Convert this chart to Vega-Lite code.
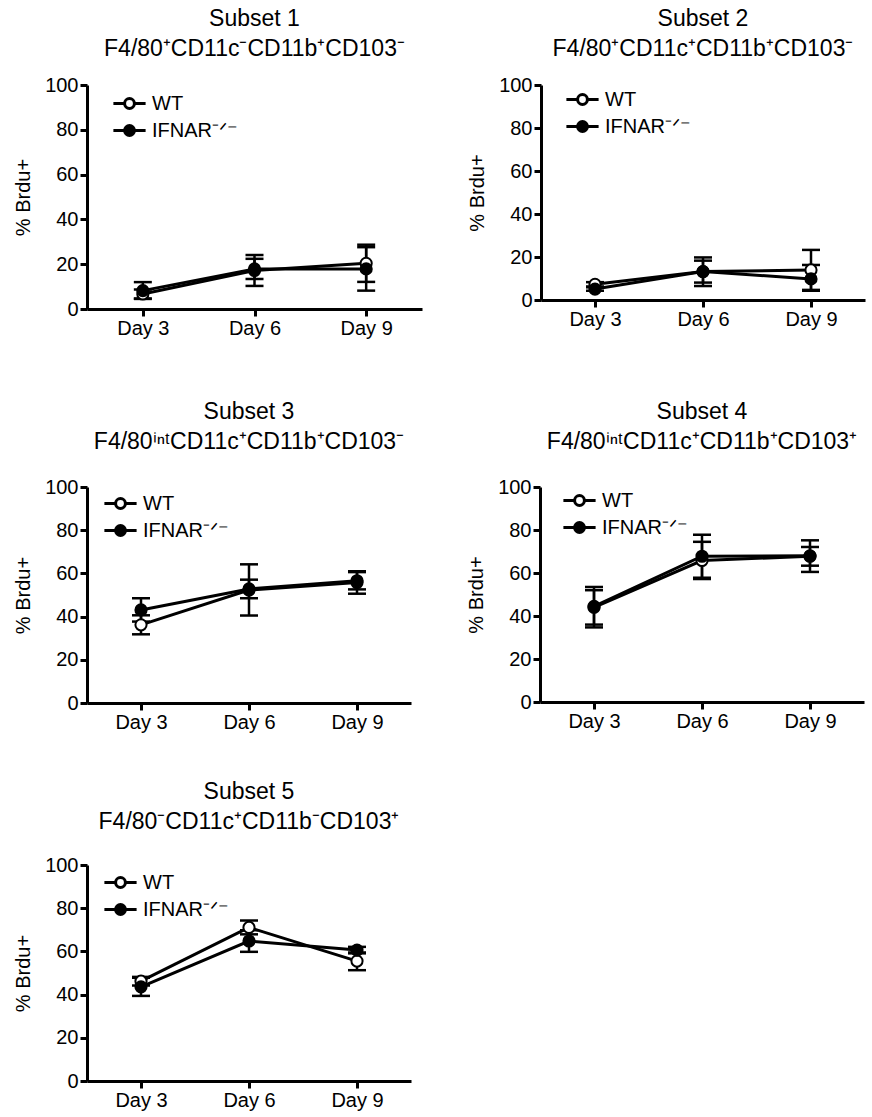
{
  "$schema": "https://vega.github.io/schema/vega-lite/v6.json",
  "padding": {"left": 13, "top": 8, "right": 5, "bottom": 2},
  "background": "white",
  "data": {"values": [
    {"panel": 1, "day": "Day 3", "g": "WT", "mean": 6.7, "lo": 4.7, "hi": 8.7},
    {"panel": 1, "day": "Day 6", "g": "WT", "mean": 17.2, "lo": 10.3, "hi": 24.1},
    {"panel": 1, "day": "Day 9", "g": "WT", "mean": 20.4, "lo": 12.1, "hi": 28.7},
    {"panel": 1, "day": "Day 3", "g": "IFNAR⁻ᐟ⁻", "mean": 8.2, "lo": 4.5, "hi": 12.0},
    {"panel": 1, "day": "Day 6", "g": "IFNAR⁻ᐟ⁻", "mean": 17.9, "lo": 13.4, "hi": 22.4},
    {"panel": 1, "day": "Day 9", "g": "IFNAR⁻ᐟ⁻", "mean": 17.9, "lo": 8.2, "hi": 27.6},
    {"panel": 2, "day": "Day 3", "g": "WT", "mean": 7.3, "lo": 6.3, "hi": 8.3},
    {"panel": 2, "day": "Day 6", "g": "WT", "mean": 13.2, "lo": 8.1, "hi": 18.3},
    {"panel": 2, "day": "Day 9", "g": "WT", "mean": 14.0, "lo": 4.7, "hi": 23.3},
    {"panel": 2, "day": "Day 3", "g": "IFNAR⁻ᐟ⁻", "mean": 5.1, "lo": 4.3, "hi": 5.9},
    {"panel": 2, "day": "Day 6", "g": "IFNAR⁻ᐟ⁻", "mean": 13.2, "lo": 6.5, "hi": 19.8},
    {"panel": 2, "day": "Day 9", "g": "IFNAR⁻ᐟ⁻", "mean": 9.8, "lo": 4.3, "hi": 16.3},
    {"panel": 3, "day": "Day 3", "g": "WT", "mean": 36.2, "lo": 31.8, "hi": 40.6},
    {"panel": 3, "day": "Day 6", "g": "WT", "mean": 52.3, "lo": 40.5, "hi": 64.2},
    {"panel": 3, "day": "Day 9", "g": "WT", "mean": 55.8, "lo": 50.6, "hi": 61.0},
    {"panel": 3, "day": "Day 3", "g": "IFNAR⁻ᐟ⁻", "mean": 43.1, "lo": 37.7, "hi": 48.5},
    {"panel": 3, "day": "Day 6", "g": "IFNAR⁻ᐟ⁻", "mean": 52.8, "lo": 48.5, "hi": 57.1},
    {"panel": 3, "day": "Day 9", "g": "IFNAR⁻ᐟ⁻", "mean": 56.6, "lo": 52.6, "hi": 60.6},
    {"panel": 4, "day": "Day 3", "g": "WT", "mean": 44.0, "lo": 36.0, "hi": 52.0},
    {"panel": 4, "day": "Day 6", "g": "WT", "mean": 65.8, "lo": 57.2, "hi": 74.5},
    {"panel": 4, "day": "Day 9", "g": "WT", "mean": 67.8, "lo": 60.5, "hi": 75.2},
    {"panel": 4, "day": "Day 3", "g": "IFNAR⁻ᐟ⁻", "mean": 44.5, "lo": 34.7, "hi": 53.5},
    {"panel": 4, "day": "Day 6", "g": "IFNAR⁻ᐟ⁻", "mean": 67.8, "lo": 57.8, "hi": 77.8},
    {"panel": 4, "day": "Day 9", "g": "IFNAR⁻ᐟ⁻", "mean": 68.0, "lo": 63.4, "hi": 72.1},
    {"panel": 5, "day": "Day 3", "g": "WT", "mean": 46.2, "lo": 44.2, "hi": 48.2},
    {"panel": 5, "day": "Day 6", "g": "WT", "mean": 71.1, "lo": 67.9, "hi": 74.3},
    {"panel": 5, "day": "Day 9", "g": "WT", "mean": 55.5, "lo": 51.3, "hi": 59.5},
    {"panel": 5, "day": "Day 3", "g": "IFNAR⁻ᐟ⁻", "mean": 43.6, "lo": 39.4, "hi": 47.8},
    {"panel": 5, "day": "Day 6", "g": "IFNAR⁻ᐟ⁻", "mean": 64.8, "lo": 59.8, "hi": 69.8},
    {"panel": 5, "day": "Day 9", "g": "IFNAR⁻ᐟ⁻", "mean": 60.6, "lo": 59.1, "hi": 62.1}
  ]},
  "config": {
    "view": {"stroke": null},
    "font": "Liberation Sans",
    "axis": {"grid": false, "domainColor": "black", "tickColor": "black", "domainWidth": 3, "tickWidth": 3, "tickSize": 7, "labelFontSize": 20, "labelColor": "black", "labelFont": "Liberation Sans", "titleFont": "Liberation Sans", "titleFontSize": 20, "titleFontWeight": "normal", "titleColor": "black", "labelPadding": 2},
    "title": {"font": "Liberation Sans", "fontSize": 23, "fontWeight": "normal", "color": "black", "lineHeight": 30, "frame": "group", "anchor": "middle"},
    "legend": {"labelFont": "Liberation Sans", "labelFontSize": 20, "labelColor": "black", "rowPadding": 0, "labelOffset": 7, "padding": 0},
    "tick": {"opacity": 1}
  },
  "resolve": {"scale": {"fill": "independent"}, "legend": {"fill": "independent"}},
  "vconcat": [
    {"hconcat": [
      {"width": 335, "height": 224,
       "title": {"text": ["Subset 1", "F4/80⁺CD11c⁻CD11b⁺CD103⁻"], "offset": 14},
       "transform": [{"filter": "datum.panel == 1"}],
       "encoding": {"x": {"field": "day", "type": "ordinal", "sort": ["Day 3", "Day 6", "Day 9"], "scale": {"type": "point", "padding": 0.5}, "axis": {"title": null, "labelAngle": 0}}},
       "layer": [
         {"mark": {"type": "line", "color": "black", "strokeWidth": 3}, "encoding": {"y": {"field": "mean", "type": "quantitative", "scale": {"domain": [0, 100]}, "axis": {"title": "% Brdu+", "values": [0, 20, 40, 60, 80, 100], "labelFlush": false, "titlePadding": 11}}, "detail": {"field": "g"}}},
         {"mark": {"type": "rule", "color": "black", "strokeWidth": 2.5}, "encoding": {"y": {"field": "lo", "type": "quantitative"}, "y2": {"field": "hi"}}},
         {"mark": {"type": "tick", "color": "black", "size": 18, "thickness": 2.5, "orient": "horizontal", "opacity": 1}, "encoding": {"y": {"field": "lo", "type": "quantitative"}}},
         {"mark": {"type": "tick", "color": "black", "size": 18, "thickness": 2.5, "orient": "horizontal", "opacity": 1}, "encoding": {"y": {"field": "hi", "type": "quantitative"}}},
         {"mark": {"type": "point", "shape": "circle", "filled": true, "stroke": "black", "strokeWidth": 2, "size": 125, "opacity": 1}, "encoding": {"y": {"field": "mean", "type": "quantitative"}, "fill": {"field": "g", "type": "nominal", "scale": {"domain": ["WT", "IFNAR⁻ᐟ⁻"], "range": ["white", "black"]}, "legend": {"title": null, "orient": "none", "legendX": 27, "legendY": 3, "symbolType": "M-1.15,0H-0.35M0.35,0H1.15M-0.35,0A0.35,0.35 0 1 1 0.35,0A0.35,0.35 0 1 1 -0.35,0", "symbolSize": 784, "symbolStrokeColor": "black", "symbolStrokeWidth": 3, "encode": {"symbols": {"update": {"stroke": {"value": "black"}, "strokeWidth": {"value": 3}, "opacity": {"value": 1}}}}}}}}
       ]},
      {"width": 324, "height": 215,
       "title": {"text": ["Subset 2", "F4/80⁺CD11c⁺CD11b⁺CD103⁻"], "offset": 14},
       "transform": [{"filter": "datum.panel == 2"}],
       "encoding": {"x": {"field": "day", "type": "ordinal", "sort": ["Day 3", "Day 6", "Day 9"], "scale": {"type": "point", "padding": 0.5}, "axis": {"title": null, "labelAngle": 0}}},
       "layer": [
         {"mark": {"type": "line", "color": "black", "strokeWidth": 3}, "encoding": {"y": {"field": "mean", "type": "quantitative", "scale": {"domain": [0, 100]}, "axis": {"title": "% Brdu+", "values": [0, 20, 40, 60, 80, 100], "labelFlush": false, "titlePadding": 11}}, "detail": {"field": "g"}}},
         {"mark": {"type": "rule", "color": "black", "strokeWidth": 2.5}, "encoding": {"y": {"field": "lo", "type": "quantitative"}, "y2": {"field": "hi"}}},
         {"mark": {"type": "tick", "color": "black", "size": 18, "thickness": 2.5, "orient": "horizontal", "opacity": 1}, "encoding": {"y": {"field": "lo", "type": "quantitative"}}},
         {"mark": {"type": "tick", "color": "black", "size": 18, "thickness": 2.5, "orient": "horizontal", "opacity": 1}, "encoding": {"y": {"field": "hi", "type": "quantitative"}}},
         {"mark": {"type": "point", "shape": "circle", "filled": true, "stroke": "black", "strokeWidth": 2, "size": 125, "opacity": 1}, "encoding": {"y": {"field": "mean", "type": "quantitative"}, "fill": {"field": "g", "type": "nominal", "scale": {"domain": ["WT", "IFNAR⁻ᐟ⁻"], "range": ["white", "black"]}, "legend": {"title": null, "orient": "none", "legendX": 26, "legendY": -1, "symbolType": "M-1.15,0H-0.35M0.35,0H1.15M-0.35,0A0.35,0.35 0 1 1 0.35,0A0.35,0.35 0 1 1 -0.35,0", "symbolSize": 784, "symbolStrokeColor": "black", "symbolStrokeWidth": 3, "encode": {"symbols": {"update": {"stroke": {"value": "black"}, "strokeWidth": {"value": 3}, "opacity": {"value": 1}}}}}}}}
       ]}
    ], "spacing": 45, "resolve": {"scale": {"fill": "independent"}, "legend": {"fill": "independent"}}},
    {"vconcat": [
      {"hconcat": [
        {"width": 324, "height": 216,
         "title": {"text": ["Subset 3", "F4/80ⁱⁿᵗCD11c⁺CD11b⁺CD103⁻"], "offset": 23},
         "transform": [{"filter": "datum.panel == 3"}],
         "encoding": {"x": {"field": "day", "type": "ordinal", "sort": ["Day 3", "Day 6", "Day 9"], "scale": {"type": "point", "padding": 0.5}, "axis": {"title": null, "labelAngle": 0}}},
         "layer": [
           {"mark": {"type": "line", "color": "black", "strokeWidth": 3}, "encoding": {"y": {"field": "mean", "type": "quantitative", "scale": {"domain": [0, 100]}, "axis": {"title": "% Brdu+", "values": [0, 20, 40, 60, 80, 100], "labelFlush": false, "titlePadding": 11}}, "detail": {"field": "g"}}},
           {"mark": {"type": "rule", "color": "black", "strokeWidth": 2.5}, "encoding": {"y": {"field": "lo", "type": "quantitative"}, "y2": {"field": "hi"}}},
           {"mark": {"type": "tick", "color": "black", "size": 18, "thickness": 2.5, "orient": "horizontal", "opacity": 1}, "encoding": {"y": {"field": "lo", "type": "quantitative"}}},
           {"mark": {"type": "tick", "color": "black", "size": 18, "thickness": 2.5, "orient": "horizontal", "opacity": 1}, "encoding": {"y": {"field": "hi", "type": "quantitative"}}},
           {"mark": {"type": "point", "shape": "circle", "filled": true, "stroke": "black", "strokeWidth": 2, "size": 125, "opacity": 1}, "encoding": {"y": {"field": "mean", "type": "quantitative"}, "fill": {"field": "g", "type": "nominal", "scale": {"domain": ["WT", "IFNAR⁻ᐟ⁻"], "range": ["white", "black"]}, "legend": {"title": null, "orient": "none", "legendX": 18, "legendY": 1, "symbolType": "M-1.15,0H-0.35M0.35,0H1.15M-0.35,0A0.35,0.35 0 1 1 0.35,0A0.35,0.35 0 1 1 -0.35,0", "symbolSize": 784, "symbolStrokeColor": "black", "symbolStrokeWidth": 3, "encode": {"symbols": {"update": {"stroke": {"value": "black"}, "strokeWidth": {"value": 3}, "opacity": {"value": 1}}}}}}}}
         ]},
        {"width": 324, "height": 215,
         "title": {"text": ["Subset 4", "F4/80ⁱⁿᵗCD11c⁺CD11b⁺CD103⁺"], "offset": 23},
         "transform": [{"filter": "datum.panel == 4"}],
         "encoding": {"x": {"field": "day", "type": "ordinal", "sort": ["Day 3", "Day 6", "Day 9"], "scale": {"type": "point", "padding": 0.5}, "axis": {"title": null, "labelAngle": 0}}},
         "layer": [
           {"mark": {"type": "line", "color": "black", "strokeWidth": 3}, "encoding": {"y": {"field": "mean", "type": "quantitative", "scale": {"domain": [0, 100]}, "axis": {"title": "% Brdu+", "values": [0, 20, 40, 60, 80, 100], "labelFlush": false, "titlePadding": 11}}, "detail": {"field": "g"}}},
           {"mark": {"type": "rule", "color": "black", "strokeWidth": 2.5}, "encoding": {"y": {"field": "lo", "type": "quantitative"}, "y2": {"field": "hi"}}},
           {"mark": {"type": "tick", "color": "black", "size": 18, "thickness": 2.5, "orient": "horizontal", "opacity": 1}, "encoding": {"y": {"field": "lo", "type": "quantitative"}}},
           {"mark": {"type": "tick", "color": "black", "size": 18, "thickness": 2.5, "orient": "horizontal", "opacity": 1}, "encoding": {"y": {"field": "hi", "type": "quantitative"}}},
           {"mark": {"type": "point", "shape": "circle", "filled": true, "stroke": "black", "strokeWidth": 2, "size": 125, "opacity": 1}, "encoding": {"y": {"field": "mean", "type": "quantitative"}, "fill": {"field": "g", "type": "nominal", "scale": {"domain": ["WT", "IFNAR⁻ᐟ⁻"], "range": ["white", "black"]}, "legend": {"title": null, "orient": "none", "legendX": 24, "legendY": -2, "symbolType": "M-1.15,0H-0.35M0.35,0H1.15M-0.35,0A0.35,0.35 0 1 1 0.35,0A0.35,0.35 0 1 1 -0.35,0", "symbolSize": 784, "symbolStrokeColor": "black", "symbolStrokeWidth": 3, "encode": {"symbols": {"update": {"stroke": {"value": "black"}, "strokeWidth": {"value": 3}, "opacity": {"value": 1}}}}}}}}
         ]}
      ], "spacing": 55, "resolve": {"scale": {"fill": "independent"}, "legend": {"fill": "independent"}}},
      {"width": 324, "height": 216,
       "title": {"text": ["Subset 5", "F4/80⁻CD11c⁺CD11b⁻CD103⁺"], "offset": 21},
       "transform": [{"filter": "datum.panel == 5"}],
       "encoding": {"x": {"field": "day", "type": "ordinal", "sort": ["Day 3", "Day 6", "Day 9"], "scale": {"type": "point", "padding": 0.5}, "axis": {"title": null, "labelAngle": 0}}},
       "layer": [
         {"mark": {"type": "line", "color": "black", "strokeWidth": 3}, "encoding": {"y": {"field": "mean", "type": "quantitative", "scale": {"domain": [0, 100]}, "axis": {"title": "% Brdu+", "values": [0, 20, 40, 60, 80, 100], "labelFlush": false, "titlePadding": 11}}, "detail": {"field": "g"}}},
         {"mark": {"type": "rule", "color": "black", "strokeWidth": 2.5}, "encoding": {"y": {"field": "lo", "type": "quantitative"}, "y2": {"field": "hi"}}},
         {"mark": {"type": "tick", "color": "black", "size": 18, "thickness": 2.5, "orient": "horizontal", "opacity": 1}, "encoding": {"y": {"field": "lo", "type": "quantitative"}}},
         {"mark": {"type": "tick", "color": "black", "size": 18, "thickness": 2.5, "orient": "horizontal", "opacity": 1}, "encoding": {"y": {"field": "hi", "type": "quantitative"}}},
         {"mark": {"type": "point", "shape": "circle", "filled": true, "stroke": "black", "strokeWidth": 2, "size": 125, "opacity": 1}, "encoding": {"y": {"field": "mean", "type": "quantitative"}, "fill": {"field": "g", "type": "nominal", "scale": {"domain": ["WT", "IFNAR⁻ᐟ⁻"], "range": ["white", "black"]}, "legend": {"title": null, "orient": "none", "legendX": 18, "legendY": 2, "symbolType": "M-1.15,0H-0.35M0.35,0H1.15M-0.35,0A0.35,0.35 0 1 1 0.35,0A0.35,0.35 0 1 1 -0.35,0", "symbolSize": 784, "symbolStrokeColor": "black", "symbolStrokeWidth": 3, "encode": {"symbols": {"update": {"stroke": {"value": "black"}, "strokeWidth": {"value": 3}, "opacity": {"value": 1}}}}}}}}
       ]}
    ], "spacing": 49, "resolve": {"scale": {"fill": "independent"}, "legend": {"fill": "independent"}}}
  ],
  "spacing": 63
}
